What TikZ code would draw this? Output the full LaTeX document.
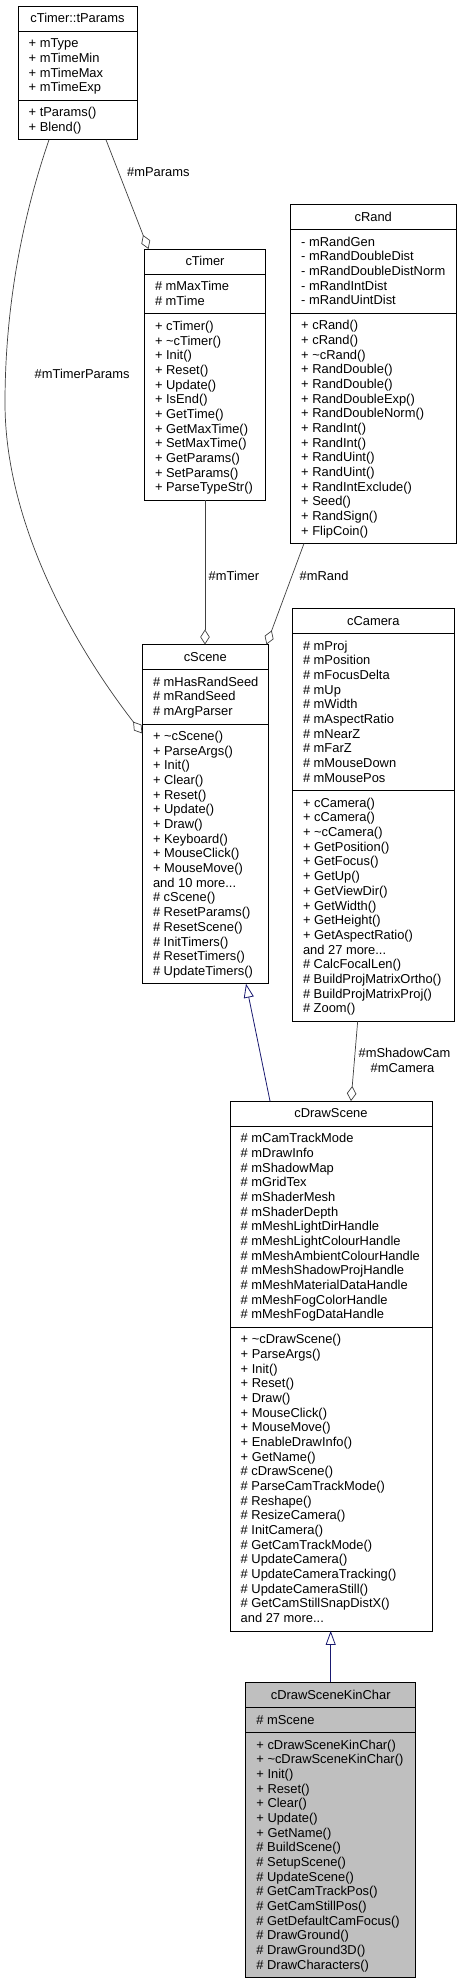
\documentclass[tikz,border=0pt]{standalone}
\usepackage{fontspec}
\setmainfont{Liberation Sans}
\usetikzlibrary{arrows.meta,calc}
\definecolor{edgegray}{HTML}{404040}
\definecolor{inhblue}{HTML}{191970}
\definecolor{focusgray}{HTML}{BFBFBF}
\newcommand\dxfs{\fontsize{12.9}{14.67}\selectfont}
\newcommand\dxdots{...}
% #1 prefix, #2 text x, #3 section top y, #4 list of lines
\newcommand\dxlines[4]{%
  \foreach \dxitem [count=\dxi from 0] in {#4} {%
    \node[txt] (#1\dxi) at ({#2},{#3+16.7+14.67*\dxi}) {\dxitem};}}
% #1 name, #2 L, #3 T, #4 W, #5 n attrs, #6 n methods, #7 fill
\newcommand\dxclass[7]{%
  \pgfmathsetmacro\dxa{25+#5*14.67+10.4}%
  \pgfmathsetmacro\dxh{\dxa+#6*14.67+10.4}%
  \node[box, fill=#7, minimum width=#4pt, minimum height=\dxh pt] (#1) at (#2,#3) {};
  \draw[boxline] ([yshift=-25pt]#1.north west) -- ([yshift=-25pt]#1.north east);
  \draw[boxline] ([yshift=-\dxa pt]#1.north west) -- ([yshift=-\dxa pt]#1.north east);
}
\begin{document}
\begin{tikzpicture}[x=1pt,y=-1pt,
  box/.style={draw=black, line width=0.8pt, rectangle, inner sep=0pt, outer sep=0pt, anchor=north west},
  boxline/.style={draw=black, line width=0.8pt},
  txt/.style={anchor=base west, inner sep=0pt, font=\dxfs},
  ttl/.style={anchor=base, inner sep=0pt, font=\dxfs},
  lbl/.style={anchor=base west, inner sep=0pt, font=\dxfs},
  lblc/.style={anchor=base, inner sep=0pt, font=\dxfs},
  agg/.style={draw=edgegray, line width=0.7pt, -{Diamond[open, length=15pt, width=9.5pt]}},
  inh/.style={draw=inhblue, line width=0.8pt, -{Triangle[open, length=14pt, width=10pt]}}]
\fill[white] (0,0) rectangle (461,1984);
\useasboundingbox (0,0) rectangle (461,1984);

% ---------- cTimer::tParams
\dxclass{tParams}{18}{6}{119}{4}{2}{white}
\node[ttl] (tParams-t) at ($(tParams.north)+(0,16.8)$) {cTimer::tParams};
\dxlines{tParams-a}{28.5}{31}{+ mType, + mTimeMin, + mTimeMax, + mTimeExp}
\dxlines{tParams-m}{28.5}{100.08}{+ tParams(), + Blend()}

% ---------- cTimer
\dxclass{cTimer}{144.3}{249}{121.4}{2}{12}{white}
\node[ttl] (cTimer-t) at ($(cTimer.north)+(0,16.8)$) {cTimer};
\dxlines{cTimer-a}{154.8}{274}{\# mMaxTime, \# mTime}
\dxlines{cTimer-m}{154.8}{313.74}{+ cTimer(), + \textasciitilde cTimer(), + Init(), + Reset(), + Update(), + IsEnd(), + GetTime(), + GetMaxTime(), + SetMaxTime(), + GetParams(), + SetParams(), + ParseTypeStr()}

% ---------- cRand
\dxclass{cRand}{290.5}{204.3}{165.5}{5}{15}{white}
\node[ttl] (cRand-t) at ($(cRand.north)+(0,16.8)$) {cRand};
\dxlines{cRand-a}{301}{229.3}{- mRandGen, - mRandDoubleDist, - mRandDoubleDistNorm, - mRandIntDist, - mRandUintDist}
\dxlines{cRand-m}{301}{313.05}{+ cRand(), + cRand(), + \textasciitilde cRand(), + RandDouble(), + RandDouble(), + RandDoubleExp(), + RandDoubleNorm(), + RandInt(), + RandInt(), + RandUint(), + RandUint(), + RandIntExclude(), + Seed(), + RandSign(), + FlipCoin()}

% ---------- cScene
\dxclass{cScene}{142.3}{644.5}{126}{3}{17}{white}
\node[ttl] (cScene-t) at ($(cScene.north)+(0,16.8)$) {cScene};
\dxlines{cScene-a}{152.8}{669.5}{\# mHasRandSeed, \# mRandSeed, \# mArgParser}
\dxlines{cScene-m}{152.8}{723.91}{+ \textasciitilde cScene(), + ParseArgs(), + Init(), + Clear(), + Reset(), + Update(), + Draw(), + Keyboard(), + MouseClick(), + MouseMove(), and 10 more\dxdots, \# cScene(), \# ResetParams(), \# ResetScene(), \# InitTimers(), \# ResetTimers(), \# UpdateTimers()}

% ---------- cCamera
\dxclass{cCamera}{292.3}{608.5}{162}{10}{15}{white}
\node[ttl] (cCamera-t) at ($(cCamera.north)+(0,16.8)$) {cCamera};
\dxlines{cCamera-a}{302.8}{633.5}{\# mProj, \# mPosition, \# mFocusDelta, \# mUp, \# mWidth, \# mAspectRatio, \# mNearZ, \# mFarZ, \# mMouseDown, \# mMousePos}
\dxlines{cCamera-m}{302.8}{790.6}{+ cCamera(), + cCamera(), + \textasciitilde cCamera(), + GetPosition(), + GetFocus(), + GetUp(), + GetViewDir(), + GetWidth(), + GetHeight(), + GetAspectRatio(), and 27 more\dxdots, \# CalcFocalLen(), \# BuildProjMatrixOrtho(), \# BuildProjMatrixProj(), \# Zoom()}

% ---------- cDrawScene
\dxclass{cDrawScene}{230}{1101}{202}{13}{20}{white}
\node[ttl] (cDrawScene-t) at ($(cDrawScene.north)+(0,16.8)$) {cDrawScene};
\dxlines{cDrawScene-a}{240.5}{1126}{\# mCamTrackMode, \# mDrawInfo, \# mShadowMap, \# mGridTex, \# mShaderMesh, \# mShaderDepth, \# mMeshLightDirHandle, \# mMeshLightColourHandle, \# mMeshAmbientColourHandle, \# mMeshShadowProjHandle, \# mMeshMaterialDataHandle, \# mMeshFogColorHandle, \# mMeshFogDataHandle}
\dxlines{cDrawScene-m}{240.5}{1327.11}{+ \textasciitilde cDrawScene(), + ParseArgs(), + Init(), + Reset(), + Draw(), + MouseClick(), + MouseMove(), + EnableDrawInfo(), + GetName(), \# cDrawScene(), \# ParseCamTrackMode(), \# Reshape(), \# ResizeCamera(), \# InitCamera(), \# GetCamTrackMode(), \# UpdateCamera(), \# UpdateCameraTracking(), \# UpdateCameraStill(), \# GetCamStillSnapDistX(), and 27 more\dxdots}

% ---------- cDrawSceneKinChar
\dxclass{KinChar}{245.7}{1682.3}{170}{1}{16}{focusgray}
\node[ttl] (KinChar-t) at ($(KinChar.north)+(0,16.8)$) {cDrawSceneKinChar};
\dxlines{KinChar-a}{256.2}{1707.3}{\# mScene}
\dxlines{KinChar-m}{256.2}{1732.37}{+ cDrawSceneKinChar(), + \textasciitilde cDrawSceneKinChar(), + Init(), + Reset(), + Clear(), + Update(), + GetName(), \# BuildScene(), \# SetupScene(), \# UpdateScene(), \# GetCamTrackPos(), \# GetCamStillPos(), \# GetDefaultCamFocus(), \# DrawGround(), \# DrawGround3D(), \# DrawCharacters()}

% ---------- connectors
\draw[agg] ([xshift=88pt]tParams.south west) -- ([xshift=4.2pt]cTimer.north west);
\node[lbl] (lParams) at (127,176.2) {\#mParams};

\coordinate (tpbend) at (5,403);
\draw[agg] ([xshift=31pt]tParams.south west) .. controls (18,230) and (5,320) .. (tpbend)
  .. controls (5,520) and (70,640) .. ([yshift=-89pt]cScene.north west);
\node[lbl] (lTimerParams) at (34.5,378.5) {\#mTimerParams};

\draw[agg] (cTimer.south) -- (cTimer.south |- cScene.north);
\node[lbl] (lTimer) at (208.5,580.2) {\#mTimer};

\draw[agg] ([xshift=13.5pt]cRand.south west) -- ([xshift=-1.8pt]cScene.north east);
\node[lbl] (lRand) at (299.5,580.2) {\#mRand};

\draw[agg] ([xshift=-15.6pt]cCamera.south) -- ([xshift=20pt]cDrawScene.north);
\node[lblc] (lShadowCam) at (404.5,1057.5) {\#mShadowCam};
\node[lblc] (lCamera) at (402.5,1072.2) {\#mCamera};

\draw[inh] ([xshift=40pt]cDrawScene.north west) -- ([xshift=103.7pt]cScene.south west);
\draw[inh] (KinChar.north) -- (KinChar.north |- cDrawScene.south);
\end{tikzpicture}
\end{document}
